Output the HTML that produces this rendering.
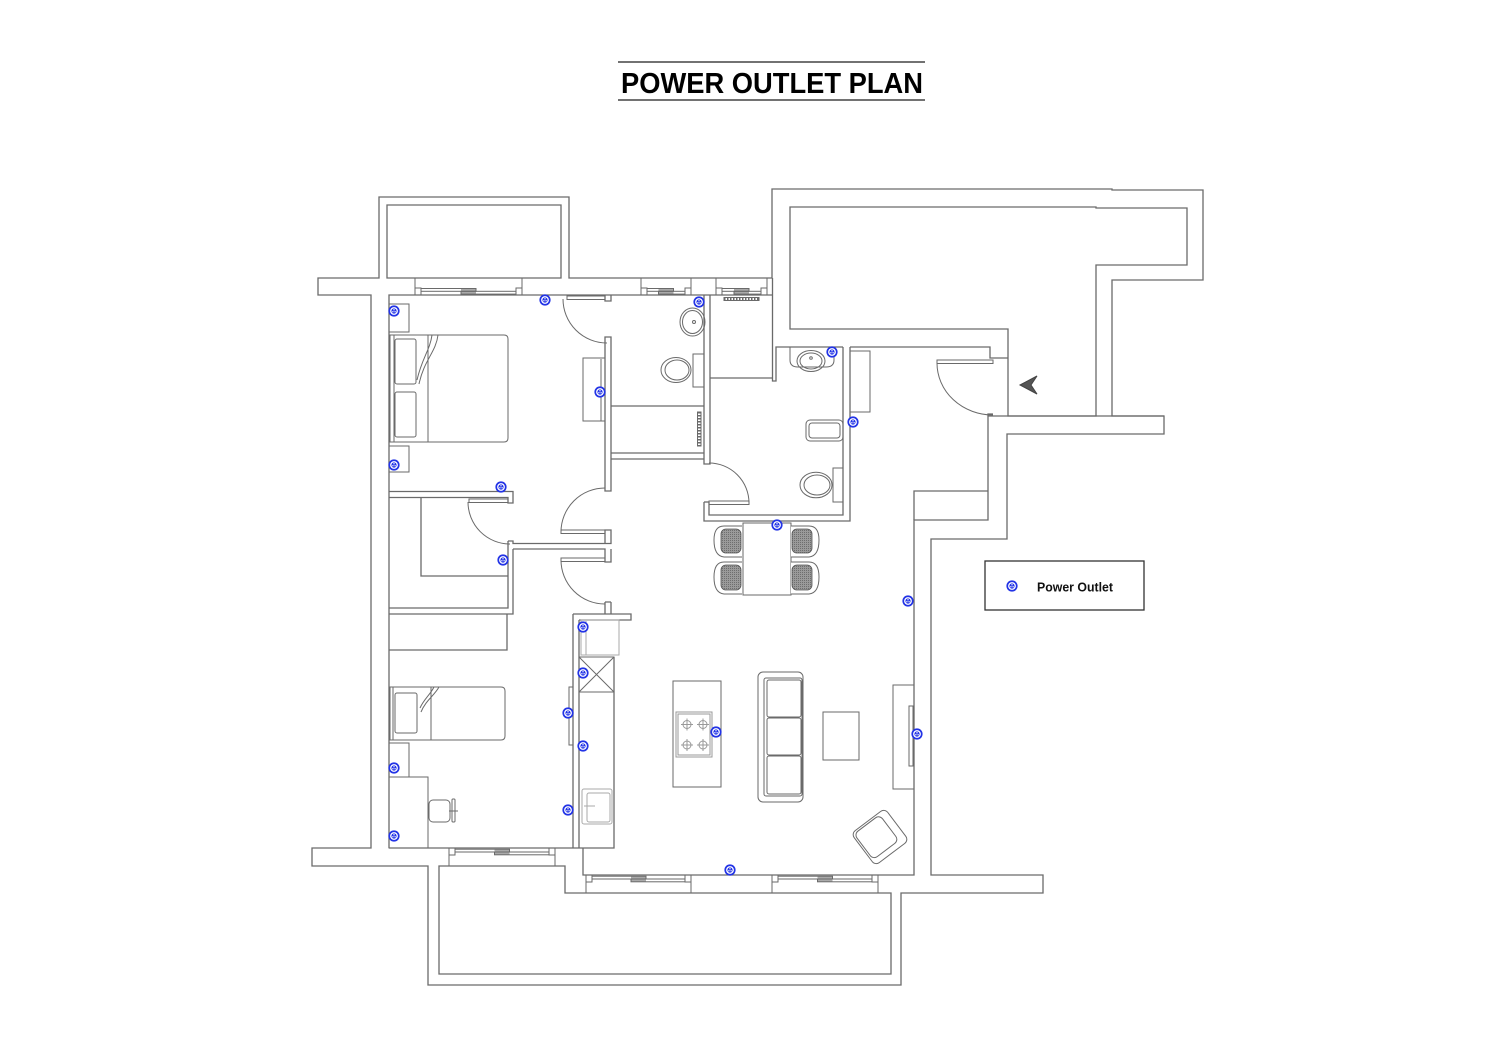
<!DOCTYPE html>
<html><head><meta charset="utf-8"><style>
html,body{margin:0;padding:0;background:#fff;}
svg{display:block;}
</style></head><body>
<svg width="1500" height="1061" viewBox="0 0 1500 1061" xmlns="http://www.w3.org/2000/svg">
<defs>
<pattern id="hatch" width="2" height="2" patternUnits="userSpaceOnUse">
<rect width="2" height="2" fill="#9a9a9a"/>
<rect width="1" height="1" fill="#6e6e6e"/>
</pattern>
<g id="o">
<circle r="5.6" fill="#2233e6"/>
<circle r="3.9" fill="#fff"/>
<circle r="2.6" fill="#2233e6"/>
<circle cx="0" cy="-1.2" r="0.7" fill="#fff"/>
<circle cx="-1.1" cy="0.8" r="0.7" fill="#fff"/>
<circle cx="1.1" cy="0.8" r="0.7" fill="#fff"/>
</g>
</defs>
<rect width="1500" height="1061" fill="#fff"/>

<!-- Title -->
<line x1="618" y1="62" x2="925" y2="62" stroke="#444" stroke-width="1.5"/>
<line x1="618" y1="100" x2="925" y2="100" stroke="#444" stroke-width="1.5"/>
<text x="621" y="93" font-family="Liberation Sans, sans-serif" font-weight="bold" font-size="29" textLength="302" lengthAdjust="spacingAndGlyphs" fill="#000">POWER OUTLET PLAN</text>

<!-- Walls -->
<g fill="none" stroke="#6a6a6a" stroke-width="1.3">
<path d="M318,278 H379 V197 H569 V278 H772 V189 H1112 V190 H1203 V280 H1112 V416 H1164 V434 H1007 V539 H931 V875 H1043 V893 H901 V985 H428 V866 H312 V848 H371 V295 H318 Z"/>
<path d="M387,278 V205 H561 V278 Z"/>
<path d="M790,207 H1096 V208 H1187 V265 H1096 V416 H1008 V329 H790 Z"/>
<path d="M439,866 H565 V893 H891 V974 H439 Z"/>
<path d="M988,416 H1164"/>
<path d="M389,848 V295 H773"/>
<path d="M772.5,278 V381 H776 V347 H843"/>
<path d="M710,378 H772.5"/>
<path d="M704,295 V464 H710 V295"/>
<path d="M611,406 H704 M611,453 H704 M611,459 H704"/>
<path d="M605,337 V491 H611 V337 Z"/>
<path d="M605,295 V301 H611 V295"/>
<path d="M389,491.5 H513 V503 H508 V497.5 H389"/>
<path d="M508,541 V608 H389"/>
<path d="M513,549 V614 H389"/>
<path d="M508,541 H513 V543.5 H611 V530 H605 V543.5"/>
<path d="M513,549 H605 V562 H611 V549"/>
<path d="M605,602 V614 M611,602 V614 M605,602 H611"/>
<path d="M421,497.5 V576 H508"/>
<path d="M389,650 H507 V614"/>
<path d="M573,614 V848 M579,620 V848 M573,614 H631 V620 H579"/>
<path d="M389,848 H614 V657"/>
<path d="M583,848 V875 H914 V520 H988 V414 H993"/>
<path d="M914,520 V491 H988"/>
<path d="M704,502 V521 H850 V347"/>
<path d="M709,502 V515 H843 V347"/>
<path d="M704,502 H709"/>
<path d="M850,347 H990 V358 H1008"/>
</g>

<!-- Windows -->
<g fill="none" stroke="#6a6a6a" stroke-width="1">
<path d="M415,278 V295 M522,278 V295"/>
<rect x="415" y="288" width="6" height="7"/><rect x="516" y="288" width="6" height="7"/>
<rect x="461" y="288.5" width="15" height="5.6" fill="#aaa" stroke="none"/>
<rect x="421" y="288.5" width="55" height="2.8"/><rect x="461" y="291.3" width="55" height="2.8"/>
<path d="M641,278 V295 M691,278 V295"/>
<rect x="641" y="288" width="6" height="7"/><rect x="685" y="288" width="6" height="7"/>
<rect x="658.5" y="288.5" width="15" height="5.6" fill="#aaa" stroke="none"/>
<rect x="647" y="288.5" width="26.5" height="2.8"/><rect x="658.5" y="291.3" width="26.5" height="2.8"/>
<path d="M716,278 V295 M767,278 V295"/>
<rect x="716" y="288" width="6" height="7"/><rect x="761" y="288" width="6" height="7"/>
<rect x="734" y="288.5" width="15" height="5.6" fill="#aaa" stroke="none"/>
<rect x="722" y="288.5" width="27" height="2.8"/><rect x="734" y="291.3" width="27" height="2.8"/>
<path d="M449,848 V866 M555,848 V866"/>
<rect x="449" y="848" width="6" height="7"/><rect x="549" y="848" width="6" height="7"/>
<rect x="494.5" y="849" width="15" height="5.6" fill="#aaa" stroke="none"/>
<rect x="455" y="849.2" width="54.5" height="2.8"/><rect x="494.5" y="852" width="54.5" height="2.8"/>
<path d="M586,875 V893 M691,875 V893"/>
<rect x="586" y="875" width="6" height="7"/><rect x="685" y="875" width="6" height="7"/>
<rect x="631" y="876" width="15" height="5.6" fill="#aaa" stroke="none"/>
<rect x="592" y="876.2" width="54" height="2.8"/><rect x="631" y="879" width="54" height="2.8"/>
<path d="M772,875 V893 M878,875 V893"/>
<rect x="772" y="875" width="6" height="7"/><rect x="872" y="875" width="6" height="7"/>
<rect x="817.5" y="876" width="15" height="5.6" fill="#aaa" stroke="none"/>
<rect x="778" y="876.2" width="54.5" height="2.8"/><rect x="817.5" y="879" width="54.5" height="2.8"/>
</g>

<!-- Doors -->
<g fill="none" stroke="#6a6a6a" stroke-width="1">
<rect x="567" y="296" width="38" height="3.5"/>
<path d="M563,299 A44,44 0 0 0 607,343"/>
<rect x="469" y="499" width="39" height="3.5"/>
<path d="M468,502 A42,42 0 0 0 510,544"/>
<rect x="561" y="530" width="44" height="3.5"/>
<path d="M561,532 A44,44 0 0 1 605,488"/>
<rect x="561" y="558" width="44" height="3.5"/>
<path d="M561,560 A44,44 0 0 0 605,604"/>
<rect x="709" y="501" width="40" height="3.5"/>
<path d="M749,503 A40,40 0 0 0 709,463"/>
<rect x="937" y="360" width="56" height="3.5"/>
<path d="M937,363 A56,52 0 0 0 993,415"/>
</g>

<!-- Furniture -->
<g fill="none" stroke="#6a6a6a" stroke-width="1">
<rect x="389" y="304" width="20" height="28"/>
<rect x="389" y="446" width="20" height="26"/>
<path d="M390,335 H504 Q508,335 508,339 V438 Q508,442 504,442 H390 Z"/>
<line x1="394" y1="335" x2="394" y2="442"/>
<rect x="395" y="339" width="21" height="45" rx="2"/>
<rect x="395" y="392" width="21" height="45" rx="2"/>
<line x1="428" y1="335" x2="428" y2="442"/>
<path d="M438,335 C436,352 424,360 419,384"/>
<path d="M432,335 C430,350 422,358 417,380"/>
<rect x="583" y="358" width="22" height="63"/>
<line x1="601" y1="359" x2="601" y2="421"/>
<ellipse cx="692.5" cy="322" rx="12.5" ry="14"/>
<ellipse cx="692.5" cy="322" rx="10" ry="11.5"/>
<circle cx="694" cy="322" r="1.5"/>
<ellipse cx="676" cy="370" rx="15" ry="12.5"/>
<ellipse cx="677" cy="370" rx="12" ry="10"/>
<rect x="693" y="354" width="11" height="33"/>
<rect x="697.5" y="412" width="3.5" height="34"/>
<line x1="699.2" y1="412" x2="699.2" y2="446" stroke-dasharray="1.5 1.5" stroke-width="3"/>
<rect x="724" y="297.5" width="35" height="3"/>
<line x1="724" y1="299" x2="759" y2="299" stroke-dasharray="1.5 1.5" stroke-width="3"/>
<path d="M790,347 V360 Q790,367 798,367 H826 Q834,367 834,360 V347"/>
<ellipse cx="811" cy="361" rx="14" ry="10.5"/>
<ellipse cx="811" cy="361" rx="11" ry="8"/>
<circle cx="811" cy="358" r="1.3"/>
<rect x="806" y="420" width="37" height="21" rx="4"/>
<rect x="809" y="423" width="31" height="15" rx="3"/>
<ellipse cx="816" cy="485" rx="16" ry="12.8"/>
<ellipse cx="817" cy="485" rx="13" ry="10"/>
<rect x="833" y="468" width="10" height="34"/>
<rect x="850" y="351" width="20" height="61"/>
<path d="M390,687 H501 Q505,687 505,691 V736 Q505,740 501,740 H390 Z"/>
<line x1="393" y1="687" x2="393" y2="740"/>
<rect x="395" y="693" width="22" height="40" rx="2"/>
<line x1="431" y1="687" x2="431" y2="740"/>
<path d="M439,687 C434,696 426,700 421,712"/>
<path d="M434,687 C430,695 424,699 420,708"/>
<rect x="389" y="743" width="20" height="34"/>
<rect x="389" y="777" width="39" height="71"/>
<rect x="429" y="800" width="21" height="22" rx="4"/>
<rect x="452" y="799" width="3" height="23" rx="1"/>
<line x1="449" y1="811" x2="458" y2="811"/>
<rect x="569" y="687" width="4" height="58"/>
<g stroke="#aaa">
<rect x="581" y="620" width="38" height="35"/>
<line x1="586" y1="621" x2="586" y2="655"/>
<rect x="582" y="789" width="30" height="35" rx="2"/>
<rect x="587" y="793" width="23" height="29" rx="2"/>
<line x1="584" y1="806" x2="595" y2="806"/>
</g>
<rect x="579" y="657" width="35" height="35"/>
<path d="M579,657 L614,692 M614,657 L579,692"/>
<rect x="673" y="681" width="48" height="106"/>
<g stroke="#999">
<rect x="676" y="712" width="36" height="45"/>
<rect x="678" y="714" width="32" height="41"/>
<circle cx="687" cy="724.5" r="4"/><circle cx="703" cy="724.5" r="4"/>
<circle cx="687" cy="745" r="4"/><circle cx="703" cy="745" r="4"/>
<path d="M681,724.5 H693 M687,718.5 V730.5 M697,724.5 H709 M703,718.5 V730.5 M681,745 H693 M687,739 V751 M697,745 H709 M703,739 V751"/>
</g>
<rect x="743" y="523" width="48" height="72"/>
<g fill="#fff">
<path d="M742,526 H724 Q714,526 714,540 Q714,556 724,557 H742"/>
<path d="M742,562 H724 Q714,562 714,577 Q714,593 724,594 H742"/>
<path d="M791,526 H809 Q819,526 819,540 Q819,556 809,557 H791"/>
<path d="M791,562 H809 Q819,562 819,577 Q819,593 809,594 H791"/>
</g>
<g fill="url(#hatch)" stroke="#555" stroke-width="0.8">
<rect x="721" y="529" width="20" height="24" rx="5"/>
<rect x="721" y="565" width="20" height="25" rx="5"/>
<rect x="792" y="529" width="20" height="24" rx="5"/>
<rect x="792" y="565" width="20" height="25" rx="5"/>
</g>
<rect x="758" y="672" width="45" height="130" rx="5"/>
<rect x="764" y="678" width="38" height="118" rx="2"/>
<rect x="767" y="680" width="34" height="37" rx="2"/>
<rect x="767" y="718" width="34" height="37" rx="2"/>
<rect x="767" y="756" width="34" height="38" rx="2"/>
<rect x="823" y="712" width="36" height="48"/>
<rect x="893" y="685" width="21" height="104"/>
<rect x="909" y="706" width="4" height="60"/>
<g transform="translate(880,837) rotate(-37)">
<rect x="-21" y="-20" width="42" height="40" rx="5"/>
<rect x="-19" y="-18" width="32" height="32" rx="5"/>
</g>
<path d="M1020,385 L1037,376 L1031,385 L1037,394 Z" fill="#555" stroke="#444"/>
</g>

<!-- Outlets -->
<use href="#o" x="394" y="311"/>
<use href="#o" x="545" y="300"/>
<use href="#o" x="699" y="302"/>
<use href="#o" x="600" y="392"/>
<use href="#o" x="394" y="465"/>
<use href="#o" x="501" y="487"/>
<use href="#o" x="503" y="560"/>
<use href="#o" x="832" y="352"/>
<use href="#o" x="853" y="422"/>
<use href="#o" x="777" y="525"/>
<use href="#o" x="908" y="601"/>
<use href="#o" x="583" y="627"/>
<use href="#o" x="583" y="673"/>
<use href="#o" x="568" y="713"/>
<use href="#o" x="583" y="746"/>
<use href="#o" x="716" y="732"/>
<use href="#o" x="917" y="734"/>
<use href="#o" x="394" y="768"/>
<use href="#o" x="568" y="810"/>
<use href="#o" x="394" y="836"/>
<use href="#o" x="730" y="870"/>

<!-- Legend -->
<rect x="985" y="561" width="159" height="49" fill="none" stroke="#333" stroke-width="1.3"/>
<use href="#o" x="1012" y="586"/>
<text x="1037" y="591.5" font-family="Liberation Sans, sans-serif" font-weight="bold" font-size="12.5" textLength="76" lengthAdjust="spacingAndGlyphs" fill="#111">Power Outlet</text>
</svg>
</body></html>
